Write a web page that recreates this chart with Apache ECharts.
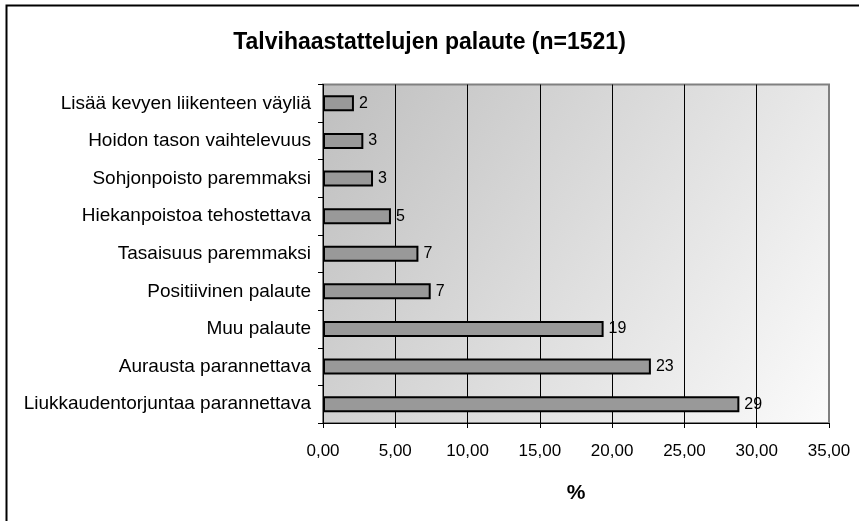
<!DOCTYPE html>
<html>
<head>
<meta charset="utf-8">
<script src="https://cdn.jsdelivr.net/npm/echarts@6/dist/echarts.min.js"></script>
<style>
  html, body { margin: 0; padding: 0; background: #ffffff; }
  #chart { width: 859px; height: 521px; }
</style>
</head>
<body>
<div id="chart"></div>
<script>
// Feedback categories, top to bottom
const categories = [
  'Lisää kevyen liikenteen väyliä',
  'Hoidon tason vaihtelevuus',
  'Sohjonpoisto paremmaksi',
  'Hiekanpoistoa tehostettava',
  'Tasaisuus paremmaksi',
  'Positiivinen palaute',
  'Muu palaute',
  'Aurausta parannettava',
  'Liukkaudentorjuntaa parannettava'
];
// Share of responses, percent
const shares = [2.14, 2.79, 3.46, 4.70, 6.60, 7.45, 19.41, 22.68, 28.80];
// Axis range for the percent scale
const axisMin = 0;
const axisMax = 35;
const axisStep = 5;

const FONT = '"Liberation Sans", Arial, sans-serif';
const chart = echarts.init(document.getElementById('chart'), null, { renderer: 'canvas' });

chart.setOption({
  animation: false,
  backgroundColor: '#ffffff',
  title: {
    text: 'Talvihaastattelujen palaute (n=1521)',
    left: 'center',
    top: 26,
    textStyle: { fontFamily: FONT, fontSize: 23, fontWeight: 'bold', color: '#000' }
  },
  graphic: [{
    type: 'rect',
    shape: { x: 6.5, y: 5.5, width: 1000, height: 1000 },
    style: { fill: 'none', stroke: '#000', lineWidth: 2 },
    silent: true,
    z: 100
  }],
  grid: {
    left: 323,
    right: 30,
    top: 84.5,
    bottom: 98,
    show: true,
    borderColor: '#808080',
    borderWidth: 2,
    backgroundColor: new echarts.graphic.LinearGradient(0, 0, 1, 1, [
      { offset: 0, color: '#bfbfbf' },
      { offset: 1, color: '#fbfbfb' }
    ])
  },
  xAxis: {
    type: 'value',
    min: axisMin,
    max: axisMax,
    interval: axisStep,
    name: '%',
    nameLocation: 'middle',
    nameGap: 60,
    nameTextStyle: { fontFamily: FONT, fontSize: 21, fontWeight: 'bold', color: '#000' },
    axisLine: { show: true, lineStyle: { color: '#000', width: 1 } },
    axisTick: { show: true, length: 5, lineStyle: { color: '#000' } },
    axisLabel: {
      fontFamily: FONT, fontSize: 17, color: '#000', margin: 20,
      formatter: v => v.toFixed(2).replace('.', ',')
    },
    splitLine: {
      show: true,
      lineStyle: { color: ['#000', '#000', '#000', '#000', '#000', '#000', '#000', '#808080'], width: 1 }
    }
  },
  yAxis: {
    type: 'category',
    inverse: true,
    data: categories,
    axisLine: { show: true, lineStyle: { color: '#000', width: 1 } },
    axisTick: { show: true, length: 5, lineStyle: { color: '#000' } },
    axisLabel: { fontFamily: FONT, fontSize: 19, color: '#000', margin: 12 },
    splitLine: { show: false }
  },
  series: [{
    type: 'bar',
    data: shares,
    barWidth: 16,
    itemStyle: { color: '#999999', borderColor: '#000', borderWidth: 2 },
    label: {
      show: true,
      position: 'right',
      distance: 5,
      fontFamily: FONT,
      fontSize: 16,
      color: '#000',
      formatter: p => Math.round(p.value)
    }
  }]
});
</script>
</body>
</html>
